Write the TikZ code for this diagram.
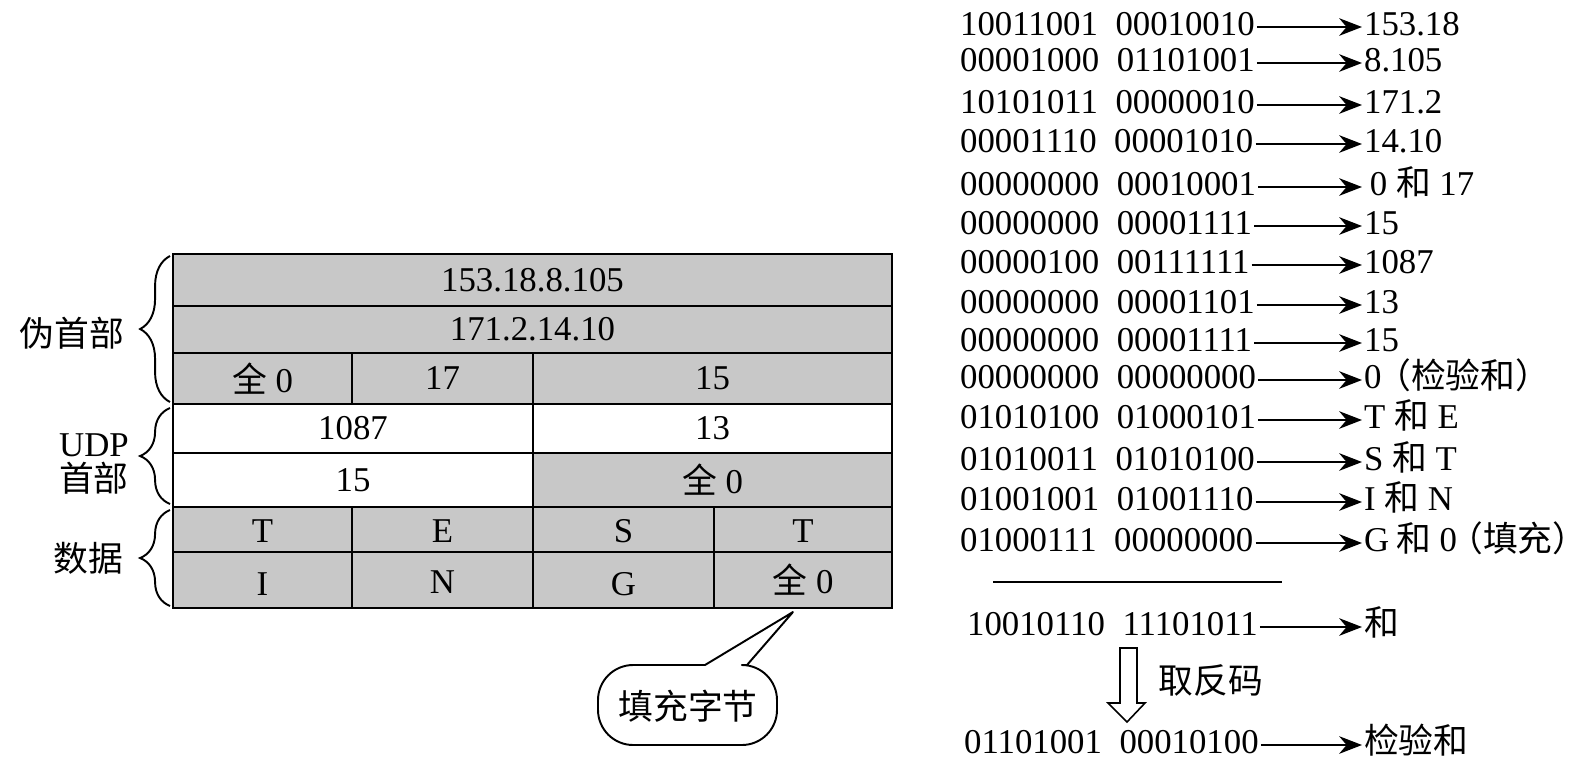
\documentclass[tikz,border=0pt]{standalone}
\usepackage{fontspec}
\setmainfont{Liberation Serif}
\newfontfamily\cjk{Noto Sans CJK SC}
\usepackage{tikz}
\usetikzlibrary{arrows.meta,decorations.pathreplacing}

\newcommand{\zh}[1]{{\cjk #1}}
\newcommand{\bgap}{\hspace{10pt}}
\newcommand{\txtsize}{\fontsize{19.8pt}{23pt}\selectfont}
\definecolor{cellgray}{RGB}{200,200,200}

\tikzset{
  cell/.style={draw, line width=1.2pt, fill=cellgray},
  blank/.style={draw, line width=1.2pt, fill=white},
  grpbrace/.style={decorate, decoration={brace, amplitude=17pt}, line width=1.1pt},
  bin/.style={anchor=west, inner sep=1pt, text height=13pt, text depth=3pt},
  val/.style={anchor=west, inner sep=1pt, text height=13pt, text depth=3pt},
  arr/.style={-{Stealth[length=13pt,width=10pt]}, line width=1.3pt},
}

\begin{document}
\begin{tikzpicture}[x=0.02cm, y=-0.02cm, every node/.style={font=\txtsize}]
        \useasboundingbox (0,0) rectangle (1593,775);

        % Pseudo header
        \draw[cell] (173,254) rectangle (892,306);
        \draw[cell] (173,306) rectangle (892,353);
        \draw[cell] (173,353) rectangle (352,404);
        \draw[cell] (352,353) rectangle (533,404);
        \draw[cell] (533,353) rectangle (892,404);
        \node (src) at (532.5,280) {153.18.8.105};
        \node (dst) at (532.5,329.5) {171.2.14.10};
        \node (zero) at (262.5,378.5) {\zh{全} 0};
        \node (proto) at (442.5,378.5) {17};
        \node (len) at (712.5,378.5) {15};

        % UDP header
        \draw[blank] (173,404) rectangle (533,453);
        \draw[blank] (533,404) rectangle (892,453);
        \draw[blank] (173,453) rectangle (533,507);
        \draw[cell] (533,453) rectangle (892,507);
        \node (sport) at (353,428.5) {1087};
        \node (dport) at (712.5,428.5) {13};
        \node (ulen) at (353,480) {15};
        \node (csum) at (712.5,480) {\zh{全} 0};

        % Data
        \draw[cell] (173,507) rectangle (352,552);
        \draw[cell] (352,507) rectangle (533,552);
        \draw[cell] (533,507) rectangle (714,552);
        \draw[cell] (714,507) rectangle (892,552);
        \draw[cell] (173,552) rectangle (352,608);
        \draw[cell] (352,552) rectangle (533,608);
        \draw[cell] (533,552) rectangle (714,608);
        \draw[cell] (714,552) rectangle (892,608);
        \node (dT) at (262.5,531) {T};
        \node (dE) at (442.5,531) {E};
        \node (dS) at (623.5,531) {S};
        \node (dT2) at (803,531) {T};
        \node (dI) at (262.5,584) {I};
        \node (dN) at (442.5,582) {N};
        \node (dG) at (623.5,584) {G};
        \node (pad) at (803,580) {\zh{全} 0};

        % Braces and labels
        \draw[grpbrace] (170,402) -- (170,256);
        \draw[grpbrace] (170,504) -- (170,408);
        \draw[grpbrace] (170,606) -- (170,510);
        \node (pseudo) at (72,333) {\zh{伪首部}};
        \node (udp) at (94,445) {UDP};
        \node (udphd) at (94,478) {\zh{首部}};
        \node (data) at (88,558) {\zh{数据}};

        % Callout
        \draw[line width=1.1pt, line join=round] (705,665) -- (793,612) -- (747,665)
            [rounded corners=20] -- (777,665) -- (777,745) -- (598,745) -- (598,665) -- (705,665);
        \node (padbyte) at (688,706) {\zh{填充字节}};

        % 16-bit words
        \node[bin] (bin1) at (958,27) {10011001\bgap 00010010};
        \node[val] (val1) at (1362,27) {153.18};
        \node[bin] (bin2) at (958,63) {00001000\bgap 01101001};
        \node[val] (val2) at (1362,63) {8.105};
        \node[bin] (bin3) at (958,105) {10101011\bgap 00000010};
        \node[val] (val3) at (1362,105) {171.2};
        \node[bin] (bin4) at (958,144) {00001110\bgap 00001010};
        \node[val] (val4) at (1362,144) {14.10};
        \node[bin] (bin5) at (958,187) {00000000\bgap 00010001};
        \node[val] (val5) at (1362,187) {\,0 \zh{和} 17};
        \node[bin] (bin6) at (958,226) {00000000\bgap 00001111};
        \node[val] (val6) at (1362,226) {15};
        \node[bin] (bin7) at (958,265) {00000100\bgap 00111111};
        \node[val] (val7) at (1362,265) {1087};
        \node[bin] (bin8) at (958,305) {00000000\bgap 00001101};
        \node[val] (val8) at (1362,305) {13};
        \node[bin] (bin9) at (958,343) {00000000\bgap 00001111};
        \node[val] (val9) at (1362,343) {15};
        \node[bin] (bin10) at (958,380) {00000000\bgap 00000000};
        \node[val] (val10) at (1362,380) {0\kern-3pt\zh{（检验和）}};
        \node[bin] (bin11) at (958,420) {01010100\bgap 01000101};
        \node[val] (val11) at (1362,420) {T \zh{和} E};
        \node[bin] (bin12) at (958,462) {01010011\bgap 01010100};
        \node[val] (val12) at (1362,462) {S \zh{和} T};
        \node[bin] (bin13) at (958,502) {01001001\bgap 01001110};
        \node[val] (val13) at (1362,502) {I \zh{和} N};
        \node[bin] (bin14) at (958,543) {01000111\bgap 00000000};
        \node[val] (val14) at (1362,543) {G\kern-1pt\ \zh{和}\ 0\kern-5pt\zh{（填充）}};
        \foreach \i in {1,...,14}
            \draw[arr] (bin\i) -- (val\i);

        % Sum and checksum
        \draw[line width=1.1pt] (993,582) -- (1282,582);
        \node[bin] (sum) at (965,627) {10010110\bgap 11101011};
        \node[val] (sumv) at (1362,627) {\zh{和}};
        \draw[arr] (sum) -- (sumv);
        \draw[line width=0.9pt] (1120,648) -- (1137,648) -- (1137,703) -- (1145,703)
            -- (1127,722) -- (1108,703) -- (1120,703) -- cycle;
        \node (inv) at (1211,680) {\zh{取反码}};
        \node[bin] (chk) at (962,745) {01101001\bgap 00010100};
        \node[val] (chkv) at (1362,745) {\zh{检验和}};
        \draw[arr] (chk) -- (chkv);
\end{tikzpicture}
\end{document}
